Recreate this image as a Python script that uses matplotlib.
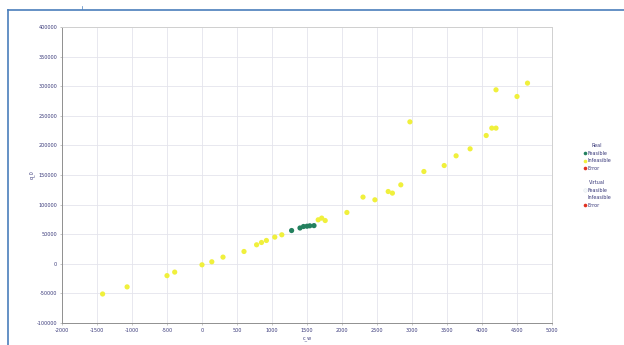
import numpy as np
import matplotlib
matplotlib.use("Agg")
import matplotlib.pyplot as plt
from matplotlib.lines import Line2D

# real runs, infeasible (yellow)
infeas_x = [-1420, -1070, -500, -390, 0, 140, 300, 600, 780, 850, 920, 1040, 1140,
            1660, 1710, 1760, 2070, 2300, 2470, 2660, 2720, 2840, 2970, 3170,
            3460, 3630, 3830, 4060, 4140, 4200, 4200, 4500, 4650]
infeas_y = [-51000, -39000, -20000, -14000, -1700, 3400, 11300, 20800, 32100, 36000,
            39400, 45100, 49000, 74300, 77200, 73100, 86700, 112700, 108100, 122100,
            119400, 133400, 239800, 155900, 166000, 182400, 194200, 216700, 229200,
            229200, 293900, 282600, 305200]

# real runs, feasible (green)
feas_x = [1280, 1400, 1450, 1500, 1540, 1600]
feas_y = [56200, 60500, 63000, 63500, 64200, 64500]

x_ticks = np.arange(-2000, 5001, 500)
y_ticks = np.arange(-100000, 400001, 50000)

fig = plt.figure(figsize=(6.24, 3.45), dpi=100)
ax = fig.add_axes([62 / 624, 1 - 323 / 345, 490 / 624, 296 / 345])

ax.scatter(infeas_x, infeas_y, s=14, color="#f0f03c", edgecolors="none", zorder=3)
ax.scatter(feas_x, feas_y, s=14, color="#23805e", edgecolors="none", zorder=4)

ax.set_xlim(-2000, 5000)
ax.set_ylim(-100000, 400000)
ax.set_xticks(x_ticks)
ax.set_yticks(y_ticks)
ax.set_xticklabels([str(v) for v in x_ticks])
ax.set_yticklabels([str(v) for v in y_ticks])
ax.tick_params(labelsize=3.5, labelcolor="#3a3a7a", length=1.5, width=0.4,
               color="#999999", pad=2)
ax.grid(True, color="#e4e4ec", linewidth=0.6)
ax.set_axisbelow(True)
for side in ["top", "right"]:
    ax.spines[side].set_color("#d0d0d0")
for side in ["left", "bottom"]:
    ax.spines[side].set_color("#909090")
for sp in ax.spines.values():
    sp.set_linewidth(0.7)

ax.set_xlabel("c_w", fontsize=3.5, color="#3a3a7a", labelpad=2)
ax.set_ylabel("q_0", fontsize=3.5, color="#3a3a7a", labelpad=1)

# legend groups on the right
def mk(c, ec="none"):
    return Line2D([], [], marker="o", linestyle="none", markersize=2.6,
                  markerfacecolor=c, markeredgecolor=ec, markeredgewidth=0.3)

real_h = [mk("#23805e"), mk("#f0f03c"), mk("#e03020")]
virt_h = [mk("#f4f8fa", "#dde6ea"), mk("#ffffff", "#ffffff"), mk("#e03020")]
labels = ["Feasible", "Infeasible", "Error"]

legend_kw = dict(loc="upper left", fontsize=3.5, title_fontsize=3.5, frameon=False,
                 handletextpad=0.1, labelspacing=0.5, borderpad=0, handlelength=1)
leg1 = fig.legend(real_h, labels, title="Real",
                  bbox_to_anchor=(580 / 624, 1 - 141 / 345), **legend_kw)
leg2 = fig.legend(virt_h, labels, title="Virtual",
                  bbox_to_anchor=(580 / 624, 1 - 178 / 345), **legend_kw)
for lg in (leg1, leg2):
    for t in lg.get_texts():
        t.set_color("#3a3a7a")
    lg.get_title().set_color("#3a3a7a")

# page frame lines
fig.add_artist(Line2D([8 / 624, 1], [1 - 10 / 345, 1 - 10 / 345],
                      color="#4a7ebb", linewidth=1.2))
fig.add_artist(Line2D([8 / 624, 8 / 624], [0, 1 - 10 / 345],
                      color="#4a7ebb", linewidth=1.2))
fig.add_artist(Line2D([82 / 624, 82 / 624], [1 - 9 / 345, 1 - 6 / 345],
                      color="#4a7ebb", linewidth=0.5))

fig.savefig("out.png", dpi=100, facecolor="white")
